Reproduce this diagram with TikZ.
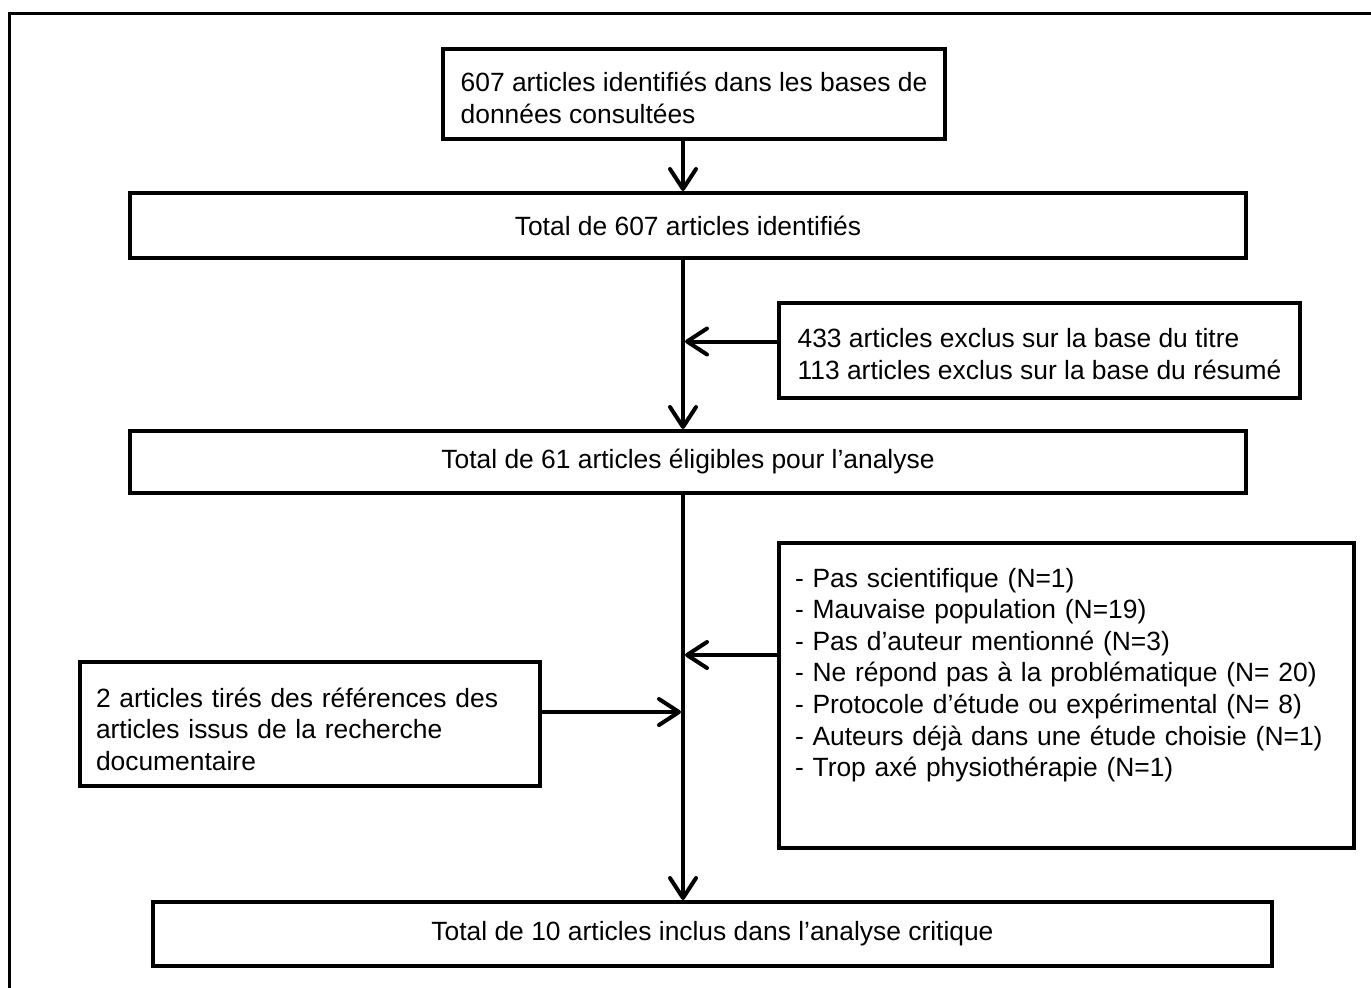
\documentclass[tikz,border=0pt]{standalone}
\usepackage{fontspec}
\setmainfont{Liberation Sans}
\usetikzlibrary{arrows.meta}

\tikzset{
  box/.style={draw, line width=2pt, rectangle, inner sep=0pt,
    font=\fontsize{13.2}{15.8}\selectfont},
  lbox/.style={box, align=left, inner xsep=8pt},
  arr/.style={line width=2pt, -{Straight Barb[length=10pt,width=13pt,round]}},
}

\begin{document}
\begin{tikzpicture}[x=0.5pt,y=-0.5pt]
    \clip (0,0) rectangle (1371,987);

    % Frame
    \draw[line width=1.5pt] (9,995) -- (9,13) -- (1380,13);

    % Main column
    \node[box, align=left, minimum width=251pt, minimum height=45pt, text height=29.5pt] (ident) at (694,94)
        {607 articles identifiés dans les bases de\\données consultées};
    \node[box, minimum width=558pt, minimum height=32.5pt] (total) at (688,225.5)
        {Total de 607 articles identifiés};
    \node[box, minimum width=558pt, minimum height=31pt] (elig) at (688,462)
        {Total de 61 articles éligibles pour l’analyse};
    \node[box, minimum width=559.5pt, minimum height=32pt] (incl) at (712.5,934)
        {Total de 10 articles inclus dans l’analyse critique};

    % Side boxes
    \node[box, align=left, minimum width=260.5pt, minimum height=47.5pt, text height=29pt] (excl1) at (1039.5,350.5)
        {433 articles exclus sur la base du titre\\113 articles exclus sur la base du résumé};
    \node[lbox, minimum width=287.5pt, minimum height=152.5pt, text width=271.5pt, text depth=118pt] (excl2) at (1066.5,695.5)
        {- Pas scientifique (N=1)\\
         - Mauvaise population (N=19)\\
         - Pas d’auteur mentionné (N=3)\\
         - Ne répond pas à la problématique (N= 20)\\
         - Protocole d’étude ou expérimental (N= 8)\\
         - Auteurs déjà dans une étude choisie (N=1)\\
         - Trop axé physiothérapie (N=1)};
    \node[lbox, minimum width=230pt, minimum height=62pt, text width=214pt, text height=15pt] (refs) at (310,724)
        {2 articles tirés des références des\\articles issus de la recherche\\documentaire};

    % Spine and arrows
    \coordinate (spine) at (683,0);
    \coordinate (e1) at ([yshift=4.5pt]excl1.west);
    \coordinate (e2) at ([yshift=20.25pt]excl2.west);
    \coordinate (r1) at ([yshift=6pt]refs.east);
    \draw[arr] (ident.south -| spine) -- (total.north -| spine);
    \draw[arr] (total.south -| spine) -- (elig.north -| spine);
    \draw[arr] (elig.south -| spine) -- (incl.north -| spine);
    \draw[arr, shorten >=1pt] (e1) -- (e1 -| spine);
    \draw[arr, shorten >=1pt] (e2) -- (e2 -| spine);
    \draw[arr, shorten >=1pt] (r1) -- (r1 -| spine);
\end{tikzpicture}
\end{document}
